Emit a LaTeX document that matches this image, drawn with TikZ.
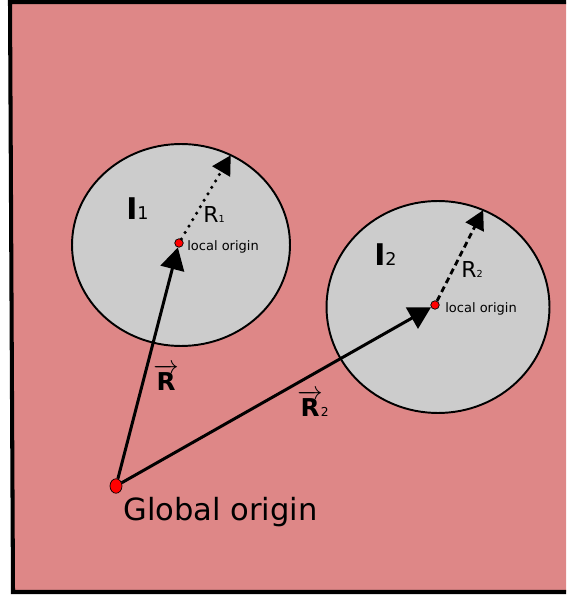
\documentclass[tikz,border=0pt]{standalone}
\usepackage{fontspec}
\setmainfont{DejaVu Sans}
\usetikzlibrary{arrows.meta,shapes.geometric}
\definecolor{salmon}{HTML}{DE8787}
\definecolor{lgray}{HTML}{CCCCCC}
\tikzset{body/.style={draw,ellipse,fill=lgray,line width=1.1pt,inner sep=0pt,outer sep=0pt},
dot/.style={draw,circle,fill=red,inner sep=0pt,minimum size=0.17cm,line width=.4pt},
vec/.style={line width=1.7pt,-{Triangle[length=0.44cm,width=0.48cm]}},
rad/.style={line width=1.6pt,-{Triangle[length=0.38cm,width=0.4cm]}},
lbl/.style={anchor=base west,inner sep=0pt}}

\begin{document}
\begin{tikzpicture}[x=0.02cm,y=-0.02cm]
\useasboundingbox (0,0) rectangle (566,597);
\clip (0,0) rectangle (566,597);
\fill[white] (0,0) rectangle (566,597);
\draw[fill=salmon,line width=2.3pt] (10,2) -- (580,2) -- (580,592) -- (13,592) -- cycle;
% bodies
\node[body,minimum width=4.36cm,minimum height=4.04cm] (e1) at (181,245) {};
\node[body,minimum width=4.46cm,minimum height=4.24cm] (e2) at (438,307) {};
% origins
\node[dot] (o1) at (179,243) {};
\node[dot] (o2) at (435,305) {};
\node[dot,ellipse,minimum width=0.24cm,minimum height=0.29cm] (go) at (116,486) {};
% vectors
\draw[vec] (go) -- (o1);
\draw[vec] (go) -- (o2);
\draw[rad,line width=2pt,dash pattern=on 0pt off 0.15cm,line cap=round] (o1) -- (e1.61);
\draw[rad,dash pattern=on 0.12cm off 0.08cm] (o2) -- (e2.65);
% labels
\node[lbl] (i1) at (126,220) {\fontsize{17}{20}\selectfont\bfseries I\fontsize{10}{12}\selectfont\mdseries 1};
\node[lbl] (i2) at (374,266) {\fontsize{17}{20}\selectfont\bfseries I\fontsize{10}{12}\selectfont\mdseries 2};
\node[lbl] (r1) at (203,223) {\fontsize{12.5}{15}\selectfont R\fontsize{5.5}{7}\selectfont 1};
\node[lbl] (r2) at (461,277) {\fontsize{12.5}{15}\selectfont R\fontsize{5.5}{7}\selectfont 2};
\node[lbl] (l1) at (187,251) {\fontsize{7.4}{9}\selectfont local origin};
\node[lbl] (l2) at (445,313) {\fontsize{7.4}{9}\selectfont local origin};
\node[lbl] (gl) at (123,520) {\fontsize{17.4}{20}\selectfont Global origin};
\node[lbl] (vr) at (153,390) {\fontsize{14}{17}\selectfont $\overrightarrow{\textbf{R}}$};
\node[lbl] (vr2) at (297,416) {\fontsize{14}{17}\selectfont $\overrightarrow{\textbf{R}}$\kern-1pt\fontsize{7}{8}\selectfont 2};
\end{tikzpicture}
\end{document}
